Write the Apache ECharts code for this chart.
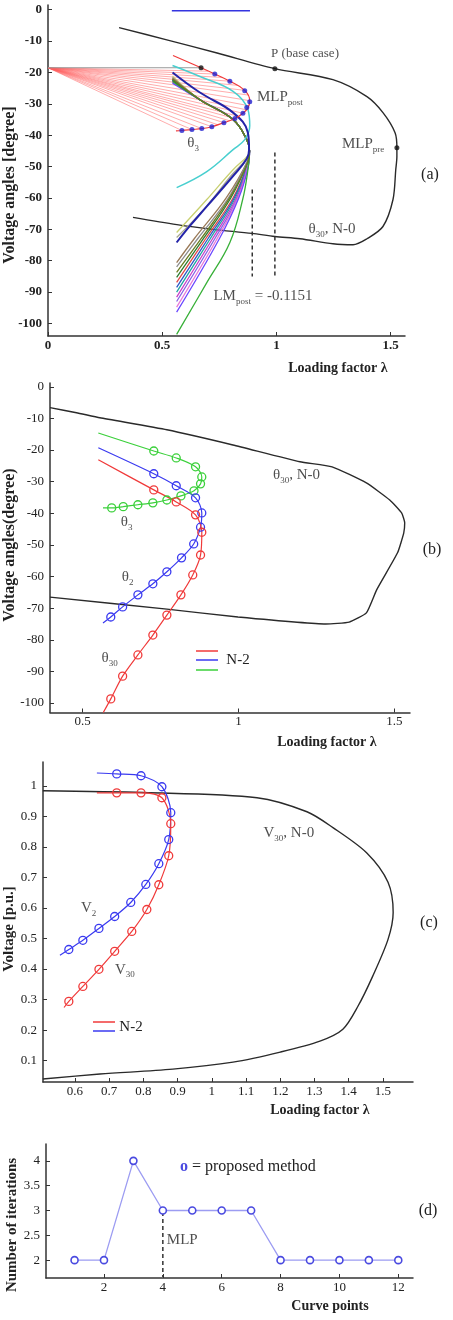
<!DOCTYPE html>
<html lang="en">
<head>
<meta charset="UTF-8">
<script src="https://cdn.jsdelivr.net/npm/echarts@6/dist/echarts.min.js"></script>
<title>PV curves - voltage angles and voltages</title>
<style>html,body{margin:0;padding:0;background:#fff;}</style>
</head>
<body>
<div id="main" style="width:453px;height:1320px;"></div>
<script type="text/javascript">
var SERIF = "'Liberation Serif', 'DejaVu Serif', serif";

// ---------- panel (a): angles, all N-2 contingencies ----------
var aXTicks = [0, 0.5, 1, 1.5];
var aYTicks = [0, -10, -20, -30, -40, -50, -60, -70, -80, -90, -100];
var aTopBar = [[0.542, -0.3], [0.884, -0.3]];
var aBaseN0 = [[0.311, -5.7], [0.52, -9.6], [0.74, -13.8], [0.993, -18.8], [1.247, -22.3], [1.396, -27.7],
  [1.466, -32.8], [1.519, -39.2], [1.527, -44], [1.527, -46.8], [1.522, -51], [1.51, -60.5], [1.466, -69.1],
  [1.396, -73], [1.335, -74.9], [1.247, -74.6], [1.103, -73], [0.993, -72.3], [0.893, -71.3], [0.722, -70],
  [0.564, -68.5], [0.372, -66.2]];
var aBlackDots = [[0.67, -18.5], [0.993, -18.8], [1.527, -44]];
var aFanOrigin = [0, -18.5];
var aFanEnds = [[0.70, -19.6], [0.73, -20.5], [0.765, -21.6], [0.796, -22.8], [0.83, -24.1], [0.861, -25.7],
  [0.876, -27.2], [0.883, -29.0], [0.878, -30.6], [0.868, -31.9], [0.853, -33], [0.835, -34], [0.818, -34.7],
  [0.795, -35.4], [0.77, -36], [0.745, -36.7], [0.717, -37.3], [0.673, -37.9], [0.63, -38.2], [0.586, -38.5]];
var aTheta3 = [[0.547, -14.6], [0.67, -18.5], [0.73, -20.5], [0.796, -22.8], [0.861, -25.7], [0.883, -29.0],
  [0.875, -31.3], [0.853, -33], [0.818, -34.7], [0.77, -36], [0.717, -37.3], [0.673, -37.9], [0.63, -38.2],
  [0.586, -38.5], [0.56, -38.6]];
var aBlueDots = [[0.73, -20.5], [0.796, -22.8], [0.861, -25.8], [0.883, -29.3], [0.87, -31.2], [0.853, -33],
  [0.818, -34.7], [0.77, -36], [0.717, -37.3], [0.673, -37.9], [0.63, -38.2], [0.586, -38.5]];
var aCyan = [[0.545, -17.8], [0.665, -21.3], [0.81, -26], [0.875, -31.8], [0.883, -37], [0.861, -41.4],
  [0.81, -44.6], [0.695, -51.6], [0.563, -56.7]];
var aDarkBlue = [[0.545, -20], [0.665, -26.4], [0.81, -32.8], [0.875, -39.2], [0.88, -44.6], [0.87, -47.5],
  [0.81, -53], [0.695, -62.7], [0.62, -69], [0.563, -74.2]];
var aBundleTop = [[0.665, -28.7], [0.81, -35], [0.87, -41.4], [0.882, -45]];
var aBundleStart = [-21.2, -21.5, -21.8, -22.0, -22.2, -22.4, -22.6, -22.8, -23.0, -23.2, -23.4, -22.9, -22.5, -22.1];
var aBundleColors = ['#c8d070', '#a8a890', '#9a7a58', '#8c8c8c', '#e04848', '#2f58c8', '#22a4a4', '#c840c8',
  '#8a62e6', '#e878d8', '#6a48ff', '#38b038', '#2e7d32', '#6b7d22'];
var aBundleLow = [
  [[0.875, -46.5], [0.81, -51], [0.695, -60.5], [0.563, -71]],
  [[0.875, -47], [0.80, -53], [0.69, -63], [0.563, -72.6]],
  [[0.875, -48], [0.78, -60], [0.64, -73], [0.563, -80.6]],
  [[0.875, -48], [0.79, -60], [0.655, -73], [0.563, -82]],
  [[0.875, -49], [0.81, -60], [0.69, -73], [0.563, -86.9]],
  [[0.875, -49], [0.815, -60], [0.70, -73], [0.563, -88.5]],
  [[0.875, -49.5], [0.82, -60], [0.71, -73], [0.563, -90]],
  [[0.875, -49.5], [0.825, -60], [0.72, -73], [0.563, -91.6]],
  [[0.875, -50], [0.83, -60], [0.73, -73], [0.563, -93]],
  [[0.875, -50], [0.832, -60], [0.74, -73], [0.563, -94.8]],
  [[0.875, -50.5], [0.835, -60], [0.75, -73], [0.563, -96.4]],
  [[0.875, -51], [0.852, -60.5], [0.796, -74.2], [0.695, -87], [0.563, -103.5]],
  [[0.875, -48.5], [0.80, -60], [0.68, -73], [0.563, -85.3]],
  [[0.875, -48.5], [0.795, -60], [0.67, -73], [0.563, -83.7]]
];
var aDash1 = [[0.894, -57.3], [0.894, -85]];
var aDash2 = [[0.993, -45.5], [0.993, -85.4]];

// ---------- panel (b): angles, one N-2 case ----------
var bXTicks = [0.5, 1, 1.5];
var bYTicks = [0, -10, -20, -30, -40, -50, -60, -70, -80, -90, -100];
var bBaseN0 = [[0.395, -6.6], [0.48, -8.2], [0.555, -9.8], [0.77, -13.6], [0.982, -18.4], [1.197, -23.7],
  [1.3, -25.3], [1.41, -30.4], [1.485, -35.8], [1.523, -39.9], [1.533, -43], [1.53, -46.2], [1.51, -52.5],
  [1.443, -64.2], [1.41, -71.5], [1.355, -74.4], [1.28, -75], [0.998, -72.8], [0.77, -70.3], [0.395, -66.5]];
var bTheta3 = [[0.55, -14.6], [0.728, -20.3], [0.8, -22.5], [0.862, -25.3], [0.882, -28.5], [0.878, -30.7],
  [0.857, -32.9], [0.815, -34.5], [0.77, -35.8], [0.725, -36.7], [0.677, -37.3], [0.63, -37.9], [0.593, -38.3],
  [0.565, -38.3]];
var bTheta2 = [[0.55, -19.3], [0.728, -27.5], [0.8, -31.3], [0.862, -35.1], [0.882, -39.9], [0.878, -44.4],
  [0.856, -49.7], [0.817, -54.1], [0.77, -58.5], [0.725, -62.3], [0.677, -65.8], [0.628, -69.6], [0.59, -72.8],
  [0.565, -74.7]];
var bTheta30 = [[0.55, -23.1], [0.728, -32.6], [0.8, -36.4], [0.862, -40.5], [0.882, -46], [0.878, -53.2],
  [0.853, -59.5], [0.815, -65.8], [0.77, -72.2], [0.725, -78.5], [0.677, -84.8], [0.628, -91.5], [0.59, -98.7],
  [0.566, -103]];

// ---------- panel (c): voltages ----------
var cXTicks = [0.6, 0.7, 0.8, 0.9, 1, 1.1, 1.2, 1.3, 1.4, 1.5];
var cYTicks = [0.1, 0.2, 0.3, 0.4, 0.5, 0.6, 0.7, 0.8, 0.9, 1];
var cBaseN0 = [[0.506, 0.984], [0.8, 0.978], [1.132, 0.961], [1.278, 0.915], [1.354, 0.863], [1.453, 0.78],
  [1.515, 0.684], [1.53, 0.585], [1.515, 0.497], [1.47, 0.376], [1.427, 0.278], [1.383, 0.203], [1.316, 0.164],
  [1.2, 0.128], [1.062, 0.095], [0.886, 0.072], [0.673, 0.056], [0.506, 0.04]];
var cV2 = [[0.664, 1.042], [0.722, 1.039], [0.793, 1.033], [0.854, 0.997], [0.88, 0.912], [0.874, 0.824],
  [0.845, 0.745], [0.807, 0.677], [0.763, 0.618], [0.716, 0.572], [0.67, 0.533], [0.623, 0.494], [0.582, 0.464],
  [0.556, 0.445]];
var cV30 = [[0.664, 0.977], [0.722, 0.977], [0.793, 0.977], [0.854, 0.961], [0.88, 0.876], [0.874, 0.771],
  [0.845, 0.676], [0.81, 0.595], [0.766, 0.523], [0.716, 0.458], [0.67, 0.399], [0.623, 0.343], [0.582, 0.294],
  [0.568, 0.274]];

// ---------- panel (d): iterations ----------
var dXTicks = [2, 4, 6, 8, 10, 12];
var dYTicks = [2, 2.5, 3, 3.5, 4];
var dPoints = [1, 2, 3, 4, 5, 6, 7, 8, 9, 10, 11, 12];
var dIterations = [2, 2, 4, 3, 3, 3, 3, 2, 2, 2, 2, 2];
var dMlp = [[4, 2.97], [4, 1.66]];

var RED = '#f03a3a', BLUE = '#3a3af0', GREEN = '#3ad03a';

function xAxis(g, min, max, ticks, bold) {
  return {
    type: 'value', gridIndex: g, min: min, max: max, splitLine: { show: false },
    axisLine: { onZero: false, lineStyle: { color: '#333', width: 1.5 } },
    axisTick: { inside: true, length: 4, customValues: ticks, lineStyle: { color: '#333' } },
    axisLabel: { customValues: ticks, margin: 3, fontFamily: SERIF, fontSize: 13, color: '#222',
      fontWeight: bold ? 'bold' : 'normal' }
  };
}
function yAxis(g, min, max, ticks, bold) {
  var ax = xAxis(g, min, max, ticks, bold);
  ax.axisLabel.margin = 6;
  return ax;
}
function curve(g, data, color, width, smooth, z) {
  return {
    type: 'line', xAxisIndex: g, yAxisIndex: g, data: data, symbol: 'none', silent: true,
    smooth: smooth, lineStyle: { color: color, width: width }, z: z || 2
  };
}
function dashed(g, data) {
  return {
    type: 'line', xAxisIndex: g, yAxisIndex: g, data: data, symbol: 'none', silent: true,
    lineStyle: { color: '#333', width: 1.5, type: [4, 3] }, z: 3
  };
}
function circled(g, data, color) {
  var d = data.map(function (p, i) {
    return (i === 0 || i === data.length - 1) ? { value: p, symbol: 'none' } : p;
  });
  return {
    type: 'line', xAxisIndex: g, yAxisIndex: g, data: d, symbol: 'circle', symbolSize: 8, silent: true,
    smooth: 0.3, lineStyle: { color: color, width: 1.2 },
    itemStyle: { color: 'rgba(0,0,0,0)', borderColor: color, borderWidth: 1.3 }, z: 4
  };
}
function dots(g, data, color, size) {
  return {
    type: 'scatter', xAxisIndex: g, yAxisIndex: g, data: data, symbolSize: size, silent: true,
    itemStyle: { color: color }, z: 6
  };
}
var richText = {
  n: { fontFamily: SERIF, fontSize: 15, color: '#222', lineHeight: 20, verticalAlign: 'middle' },
  m: { fontFamily: SERIF, fontSize: 13, color: '#222', lineHeight: 20, verticalAlign: 'middle' },
  s: { fontFamily: SERIF, fontSize: 9, color: '#222', lineHeight: 11, verticalAlign: 'bottom' }
};
function note(g, pos, text) {
  return {
    type: 'scatter', xAxisIndex: g, yAxisIndex: g, data: [pos], symbolSize: 1, silent: true,
    itemStyle: { color: 'rgba(0,0,0,0)' },
    label: { show: true, position: 'inside', formatter: text, rich: richText }, z: 8
  };
}

var series = [];
// (a)
series.push({
  type: 'lines', coordinateSystem: 'cartesian2d', xAxisIndex: 0, yAxisIndex: 0, silent: true,
  data: aFanEnds.map(function (p) { return { coords: [aFanOrigin, p] }; }),
  lineStyle: { color: '#ff5a5a', width: 0.6, opacity: 0.85 }, z: 1
});
series.push(curve(0, [aFanOrigin, aBlackDots[0]], '#9a9a9a', 1, false, 1));
series.push(curve(0, aTopBar, '#3434e0', 1.5, false));
series.push(curve(0, aBaseN0, '#2a2a2a', 1.4, 0.3));
for (var i = 0; i < aBundleLow.length; i++) {
  series.push(curve(0, [[0.545, aBundleStart[i]]].concat(aBundleTop, aBundleLow[i]), aBundleColors[i], 1.3, 0.4));
}
series.push(curve(0, aCyan, '#48cfcf', 1.5, 0.4, 3));
series.push(curve(0, aDarkBlue, '#2424a8', 2, 0.4, 3));
series.push(curve(0, aTheta3, RED, 1.2, 0.4, 4));
series.push(dashed(0, aDash1));
series.push(dashed(0, aDash2));
series.push(dots(0, aBlueDots, '#2020d0', 5));
series.push(dots(0, aBlackDots, '#111', 5));
series.push(note(0, [1.125, -14.0], '{m|P (base case)}'));
series.push(note(0, [1.015, -28.0], '{n|MLP}{s|post}'));
series.push(note(0, [0.635, -42.4], '{n|θ}{s|3}'));
series.push(note(0, [1.379, -42.7], '{n|MLP}{s|pre}'));
series.push(note(0, [1.243, -70], '{n|θ}{s|30}{n|, N-0}'));
series.push(note(0, [0.941, -91.4], '{n|LM}{s|post}{n| = -0.1151}'));
// (b)
series.push(curve(1, bBaseN0, '#2a2a2a', 1.4, 0.15));
series.push(circled(1, bTheta3, GREEN));
series.push(circled(1, bTheta2, BLUE));
series.push(circled(1, bTheta30, RED));
series.push(note(1, [1.186, -27.8], '{n|θ}{s|30}{n|, N-0}'));
series.push(note(1, [0.641, -42.7], '{n|θ}{s|3}'));
series.push(note(1, [0.644, -60.1], '{n|θ}{s|2}'));
series.push(note(1, [0.586, -85.8], '{n|θ}{s|30}'));
// (c)
series.push(curve(2, cBaseN0, '#2a2a2a', 1.4, 0.3));
series.push(circled(2, cV2, BLUE));
series.push(circled(2, cV30, RED));
series.push(note(2, [1.225, 0.846], '{n|V}{s|30}{n|, N-0}'));
series.push(note(2, [0.64, 0.601], '{n|V}{s|2}'));
series.push(note(2, [0.746, 0.398], '{n|V}{s|30}'));
// (d)
series.push({
  type: 'line', xAxisIndex: 3, yAxisIndex: 3, silent: true, symbol: 'circle', symbolSize: 7,
  data: dPoints.map(function (x, k) { return [x, dIterations[k]]; }),
  lineStyle: { color: '#9c9cf2', width: 1.3 },
  itemStyle: { color: '#fff', borderColor: '#4a4ae0', borderWidth: 1.6 }, z: 4
});
series.push(dashed(3, dMlp));
series.push(note(3, [4.66, 2.4], '{n|MLP}'));

function axisName(x, y, text, rot, size, bold) {
  return {
    type: 'text', x: x, y: y, rotation: rot ? Math.PI / 2 : 0, silent: true,
    style: { text: text, fontFamily: SERIF, fontSize: size, fontWeight: bold ? 'bold' : 'normal',
      fill: '#222', align: 'center', verticalAlign: 'middle' }
  };
}
function swatch(x1, x2, y, color) {
  return { type: 'line', silent: true, shape: { x1: x1, y1: y, x2: x2, y2: y },
    style: { stroke: color, lineWidth: 1.5 } };
}

var graphics = [
  axisName(10, 185, 'Voltage angles [degree]', true, 16, true),
  axisName(338, 368, 'Loading factor λ', false, 14, true),
  axisName(430, 175, '(a)', false, 16, false),
  axisName(10, 545, 'Voltage angles(degree)', true, 16, true),
  axisName(327, 742, 'Loading factor λ', false, 14, true),
  axisName(432, 550, '(b)', false, 16, false),
  swatch(196, 218, 651, RED), swatch(196, 218, 660, BLUE), swatch(196, 218, 670, GREEN),
  axisName(238, 660, 'N-2', false, 15, false),
  axisName(9, 929, 'Voltage [p.u.]', true, 15, true),
  axisName(320, 1110, 'Loading factor λ', false, 14, true),
  axisName(429, 923, '(c)', false, 16, false),
  swatch(93, 115, 1022, RED), swatch(93, 115, 1031, BLUE),
  axisName(131, 1027, 'N-2', false, 15, false),
  axisName(12, 1225, 'Number of iterations', true, 15, true),
  axisName(330, 1306, 'Curve points', false, 14, true),
  axisName(428, 1211, '(d)', false, 16, false),
  {
    type: 'text', x: 180, y: 1167, silent: true,
    style: { text: '{o|o}{t| = proposed method}', align: 'left', verticalAlign: 'middle',
      rich: { o: { fontFamily: SERIF, fontSize: 16, fontWeight: 'bold', fill: '#4a4ae0' },
              t: { fontFamily: SERIF, fontSize: 16, fill: '#222' } } }
  }
];

var myChart = echarts.init(document.getElementById('main'));
var option = {
  backgroundColor: '#fff',
  animation: false,
  grid: [
    { left: 48, top: 5, width: 357, height: 331 },
    { left: 50, top: 383, width: 360, height: 329.5 },
    { left: 43, top: 762, width: 370, height: 320 },
    { left: 46, top: 1144, width: 367, height: 134 }
  ],
  xAxis: [
    xAxis(0, 0, 1.5625, aXTicks, true),
    xAxis(1, 0.395, 1.55, bXTicks, false),
    xAxis(2, 0.5065, 1.588, cXTicks, false),
    xAxis(3, 0.03, 12.5, dXTicks, false)
  ],
  yAxis: [
    yAxis(0, -104, 1.5, aYTicks, true),
    yAxis(1, -103, 1.2, bYTicks, false),
    yAxis(2, 0.03, 1.078, cYTicks, false),
    yAxis(3, 1.64, 4.34, dYTicks, false)
  ],
  series: series,
  graphic: graphics
};
myChart.setOption(option);
</script>
</body>
</html>
